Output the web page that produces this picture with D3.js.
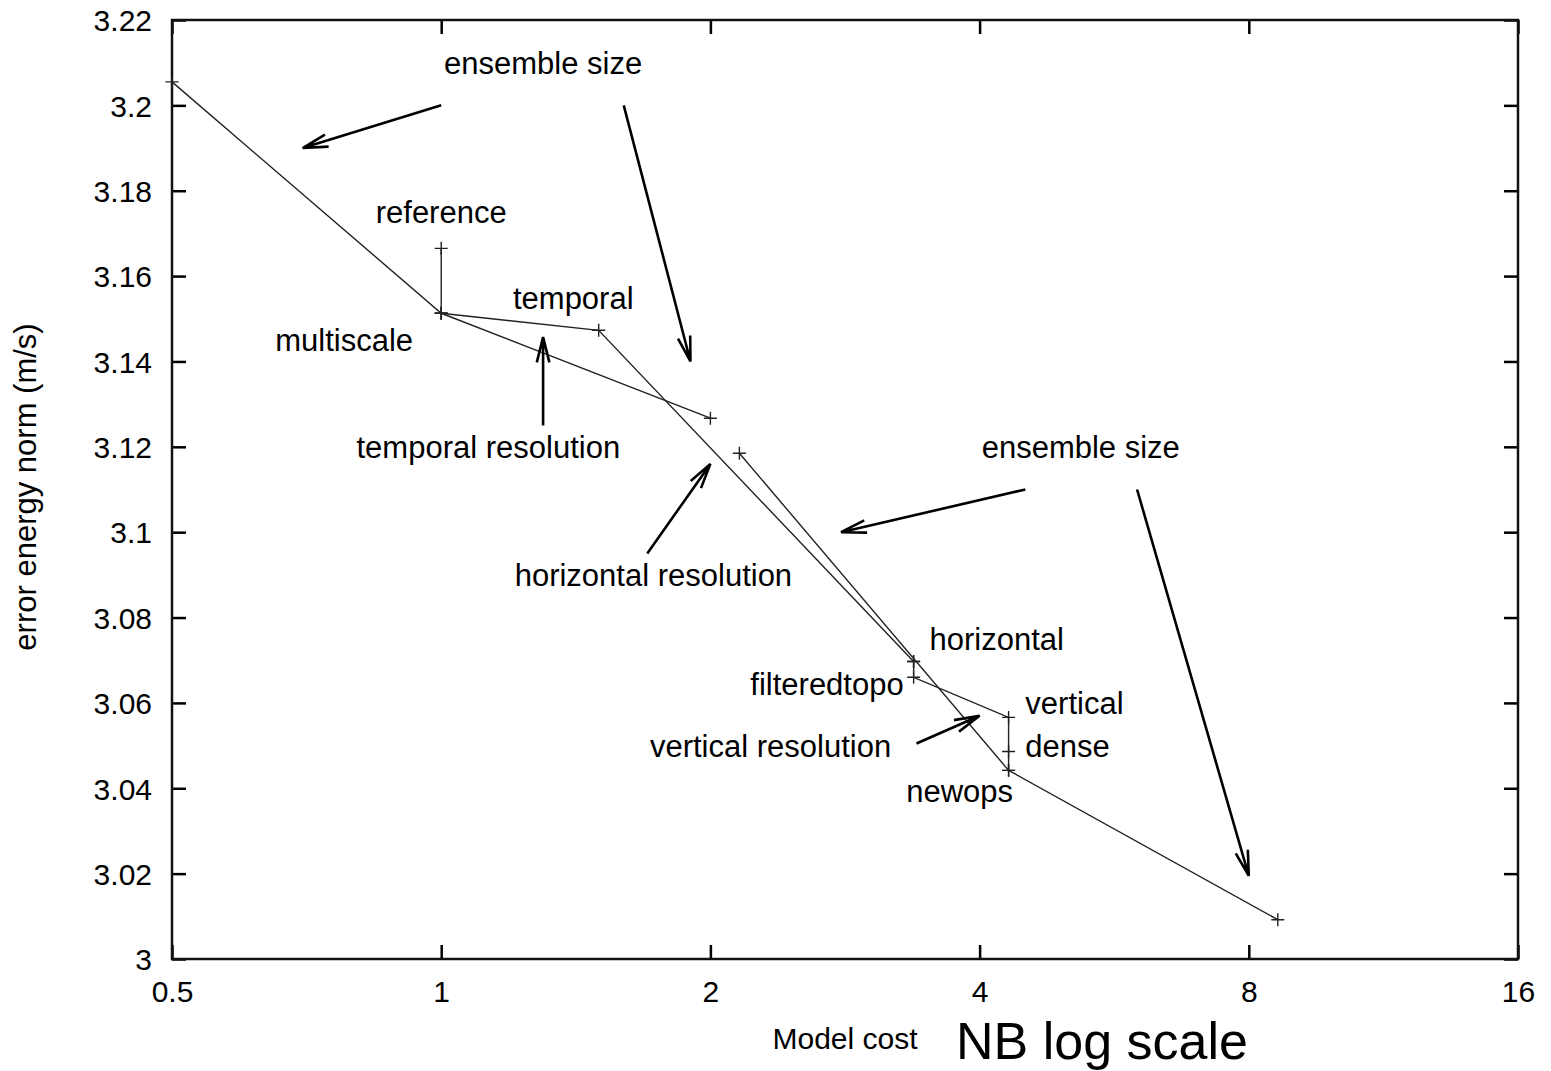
<!DOCTYPE html>
<html lang="en">
<head>
<meta charset="UTF-8">
<title>error energy norm vs model cost</title>
<script src="https://cdn.jsdelivr.net/npm/d3@7"></script>
<style>
	body { margin: 0; background: #fff; }
	text { font-family: "Liberation Sans", Arial, Helvetica, sans-serif; fill: #000; }
</style>
</head>
<body>
<svg id="chart" width="1551" height="1071"></svg>

<script>
// data: model cost (x) and error energy norm (y), one list per line
var ensembleLine = [[0.5, 3.2055], [1, 3.1513], [1.5, 3.1473], [3.375, 3.0697]];
var multiscaleLine = [[1, 3.1513], [2, 3.1267]];
var reducedLine = [[2.155, 3.1185], [4.31, 3.0442], [8.62, 3.0092]];
var verticalLine = [[3.375, 3.0697], [3.375, 3.066], [4.31, 3.0566], [4.31, 3.0486], [4.31, 3.0442]];
var referenceLine = [[1, 3.1665], [1, 3.1513]];

var xTicks = [0.5, 1, 2, 4, 8, 16];
var yTicks = [3, 3.02, 3.04, 3.06, 3.08, 3.1, 3.12, 3.14, 3.16, 3.18, 3.2, 3.22];

// annotation labels: [text, x, y, anchor]
var labels = [
	["ensemble size", 1.30, 3.21, "middle"],
	["reference", 1.0, 3.175, "middle"],
	["temporal", 1.405, 3.155, "middle"],
	["multiscale", 0.779, 3.145, "middle"],
	["temporal resolution", 1.129, 3.12, "middle"],
	["horizontal resolution", 1.727, 3.09, "middle"],
	["ensemble size", 5.19, 3.12, "middle"],
	["horizontal", 4.18, 3.075, "middle"],
	["filteredtopo", 3.29, 3.0645, "end"],
	["vertical", 4.5, 3.06, "start"],
	["dense", 4.5, 3.05, "start"],
	["vertical resolution", 2.335, 3.05, "middle"],
	["newops", 3.8, 3.0395, "middle"]
];

// arrows: [x1, y1, x2, y2] (head at x2, y2)
var arrows = [
	[1.0, 3.2, 0.7, 3.19],
	[1.6, 3.2, 1.9, 3.14],
	[1.3, 3.125, 1.3, 3.1457],
	[1.7, 3.095, 2.0, 3.116],
	[4.5, 3.11, 2.8, 3.10],
	[6.0, 3.11, 8.0, 3.0195],
	[3.4, 3.0505, 4.0, 3.057]
];

var margin = {left: 172, top: 20, right: 33, bottom: 112};
var width = 1551 - margin.left - margin.right;
var height = 1071 - margin.top - margin.bottom;

var svg = d3.select("#chart");
var g = svg.append("g")
	.attr("transform", "translate(" + margin.left + "," + margin.top + ")");

var x = d3.scaleLog().base(2).domain([0.5, 16]).range([0, width]);
var y = d3.scaleLinear().domain([3, 3.22]).range([height, 0]);

var tickLen = 14;
var fmt = function(d) { return String(+d.toFixed(2)); };

// bottom + top axes
var xAxis = g.append("g")
	.attr("transform", "translate(0," + height + ")")
	.call(d3.axisBottom(x).tickValues(xTicks).tickFormat(fmt).tickSizeInner(-tickLen).tickSizeOuter(0).tickPadding(0));
xAxis.selectAll("text").attr("dy", null).attr("y", 43).style("font-size", "30px");

g.append("g")
	.call(d3.axisTop(x).tickValues(xTicks).tickFormat("").tickSizeInner(-tickLen).tickSizeOuter(0));

// left + right axes
var yAxis = g.append("g")
	.call(d3.axisLeft(y).tickValues(yTicks).tickFormat(fmt).tickSizeInner(-tickLen).tickSizeOuter(0).tickPadding(0));
yAxis.selectAll("text").attr("x", -20).attr("dy", "0.36em").style("font-size", "30px");

g.append("g")
	.attr("transform", "translate(" + width + ",0)")
	.call(d3.axisRight(y).tickValues(yTicks).tickFormat("").tickSizeInner(-tickLen).tickSizeOuter(0));

g.selectAll(".domain").remove();
g.selectAll(".tick line").attr("stroke", "#000").attr("stroke-width", 2.5);

// frame
g.append("rect")
	.attr("width", width)
	.attr("height", height)
	.attr("fill", "none")
	.attr("stroke", "#111")
	.attr("stroke-width", 2.5);

// data lines
var line = d3.line()
	.x(function(d) { return x(d[0]); })
	.y(function(d) { return y(d[1]); });

var series = [ensembleLine, multiscaleLine, reducedLine, verticalLine, referenceLine];
g.selectAll("path.series")
	.data(series)
	.enter().append("path")
	.attr("class", "series")
	.attr("d", line)
	.attr("fill", "none")
	.attr("stroke", "#222")
	.attr("stroke-width", 1.4);

// + markers
var pts = [];
series.forEach(function(s) { s.forEach(function(p) { pts.push(p); }); });
var m = 6.5;
g.selectAll("path.mark")
	.data(pts)
	.enter().append("path")
	.attr("class", "mark")
	.attr("d", function(d) {
		var px = x(d[0]), py = y(d[1]);
		return "M" + (px - m) + "," + py + "H" + (px + m) + "M" + px + "," + (py - m) + "V" + (py + m);
	})
	.attr("stroke", "#222")
	.attr("stroke-width", 1.4);

// arrows
var headLen = 26, headAng = 14 * Math.PI / 180;
g.selectAll("path.arrow")
	.data(arrows)
	.enter().append("path")
	.attr("class", "arrow")
	.attr("d", function(d) {
		var x1 = x(d[0]), y1 = y(d[1]), x2 = x(d[2]), y2 = y(d[3]);
		var a = Math.atan2(y2 - y1, x2 - x1);
		var ax = x2 - headLen * Math.cos(a - headAng), ay = y2 - headLen * Math.sin(a - headAng);
		var bx = x2 - headLen * Math.cos(a + headAng), by = y2 - headLen * Math.sin(a + headAng);
		return "M" + x1 + "," + y1 + "L" + x2 + "," + y2 +
			"M" + ax + "," + ay + "L" + x2 + "," + y2 + "L" + bx + "," + by;
	})
	.attr("fill", "none")
	.attr("stroke", "#000")
	.attr("stroke-width", 2.6);

// labels
g.selectAll("text.label")
	.data(labels)
	.enter().append("text")
	.attr("class", "label")
	.attr("x", function(d) { return x(d[1]); })
	.attr("y", function(d) { return y(d[2]); })
	.attr("dy", "0.36em")
	.attr("text-anchor", function(d) { return d[3]; })
	.style("font-size", "31px")
	.text(function(d) { return d[0]; });

// axis titles
svg.append("text")
	.attr("transform", "translate(36,487) rotate(-90)")
	.attr("text-anchor", "middle")
	.style("font-size", "31px")
	.text("error energy norm (m/s)");

svg.append("text")
	.attr("x", 845)
	.attr("y", 1049)
	.attr("text-anchor", "middle")
	.style("font-size", "30px")
	.text("Model cost");

svg.append("text")
	.attr("x", 1102)
	.attr("y", 1059)
	.attr("text-anchor", "middle")
	.style("font-size", "52px")
	.text("NB log scale");
</script>
</body>
</html>
